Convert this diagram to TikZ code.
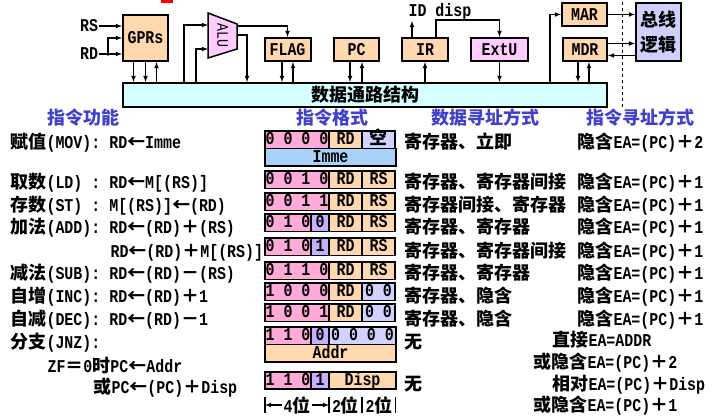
\documentclass[tikz,border=0pt]{standalone}
\usepackage{fontspec}
\setmainfont{Liberation Mono}[FakeStretch=0.83]
\newfontfamily\cjk{Noto Sans CJK SC}
\newcommand{\zh}[1]{{\cjk #1}}
\usetikzlibrary{arrows,positioning}

\definecolor{peach}{RGB}{255,216,176}
\definecolor{oppink}{RGB}{255,170,216}
\definecolor{bitviolet}{RGB}{196,176,255}
\definecolor{lilac}{RGB}{210,210,255}
\definecolor{immblue}{RGB}{168,210,250}
\definecolor{buscyan}{RGB}{214,255,255}
\definecolor{alupink}{RGB}{255,204,255}
\definecolor{logicblue}{RGB}{208,208,255}
\definecolor{headblue}{RGB}{64,64,204}

\begin{document}
\begin{tikzpicture}[>=latex, x=1pt, y=-1pt, line width=1.1pt,
  every node/.style={font=\bfseries\fontsize{18}{20}\selectfont, inner sep=0pt},
  unit/.style={draw, line width=2pt, fill=peach, minimum width=46pt, minimum height=23pt},
  cell/.style={draw, line width=1.8pt, minimum height=17.5pt, text height=12pt, text depth=2pt},
  opc/.style={cell, fill=oppink, minimum width=64pt},
  ophi/.style={cell, fill=oppink, minimum width=46pt},
  bit/.style={cell, fill=bitviolet, minimum width=18pt},
  reg/.style={cell, fill=peach, minimum width=33pt},
  nul/.style={cell, fill=lilac, minimum width=33pt},
  txt/.style={anchor=west, text height=14pt, text depth=3pt},
  head/.style={text=headblue}
]
\useasboundingbox (0,0) rectangle (712,415);

% datapath
\path
(365,95)     node[draw, line width=2pt, fill=buscyan, minimum width=484pt, minimum height=24pt] (bus) {\zh{数据通路结构}}
(145.5,38)   node[unit, minimum width=45pt, minimum height=46pt] (gprs) {GPRs}
(89,26)      node (rs) {RS}
(89,54)      node (rd) {RD}
(287.5,49.5) node[unit] (flag) {FLAG}
(356.5,49.5) node[unit, minimum width=45pt] (pc) {PC}
(425,49.5)   node[unit] (ir) {IR}
(499.5,49.5) node[unit, fill=alupink, minimum width=57pt] (extu) {ExtU}
(584.5,14.5) node[unit, minimum width=45pt] (mar) {MAR}
(585,49.5)   node[unit, minimum width=44pt] (mdr) {MDR}
(658.5,32)   node[unit, fill=logicblue, minimum width=45pt, minimum height=58pt, align=center,
               font=\bfseries\fontsize{18}{25}\selectfont] (logic) {\zh{总线}\\\zh{逻辑}}
(408,12)     node[anchor=west] (idlbl) {ID disp};

\filldraw[fill=alupink, line width=1.5pt] (208,13) -- (237,24) -- (237,49) -- (208,58) -- cycle;
\node[rotate=-90, font=\fontsize{16}{18}\selectfont] (alu) at (222.5,35.5) {ALU};
\coordinate (alua) at (208,25);
\coordinate (alub) at (208,49);
\coordinate (aluf) at (237,26);
\coordinate (alud) at (237,35);
\coordinate (rdsplit) at (108,54);

\draw[->] (rs) -- (rs -| gprs.west);
\draw[->] (rd) -- (rd -| gprs.west);
\fill (rdsplit) circle (1.8pt);
\draw[->] (rdsplit) |- (gprs.west);
\draw[->] ([xshift=-12pt]gprs.south) -- ([xshift=-12pt]gprs.south |- bus.north);
\draw[->] (gprs.south) -- (gprs.south |- bus.north);
\draw[<-] ([xshift=11pt]gprs.south) -- ([xshift=11pt]gprs.south |- bus.north);

\draw[->] ([xshift=-24pt]alua |- bus.north) |- (alua);
\draw[->] ([xshift=-12pt]alub |- bus.north) |- (alub);
\draw[->] (aluf) -| (flag.north);
\draw[->] (alud) -| ([xshift=10pt]alud |- bus.north);

\draw[->] ([xshift=-5.5pt]flag.south) -- ([xshift=-5.5pt]flag.south |- bus.north);
\draw[<-] ([xshift=5.5pt]flag.south) -- ([xshift=5.5pt]flag.south |- bus.north);
\draw[->] ([xshift=-6.5pt]pc.south) -- ([xshift=-6.5pt]pc.south |- bus.north);
\draw[<-] ([xshift=5.5pt]pc.south) -- ([xshift=5.5pt]pc.south |- bus.north);

\draw[<-] (ir.south) -- (ir.south |- bus.north);
\draw[->] ([xshift=-13pt]ir.north) -- ([xshift=-13pt]ir.north |- idlbl.south);
\draw[->] ([xshift=11pt]ir.north) |- ([yshift=17pt]extu.north) -- (extu.north);
\draw[->] (extu.south) -- (extu.south |- bus.north);

\draw[->] ([xshift=-34.5pt]mar.south |- bus.north) |- (mar.west);
\draw[->] (mar.east) -- (mar.east -| logic.west);
\draw[->] ([yshift=6pt]mdr.east) -- ([yshift=6pt]mdr.east -| logic.west);
\draw[<-] ([yshift=-6pt]mdr.east) -- ([yshift=-6pt]mdr.east -| logic.west);
\draw[->] ([xshift=-7pt]mdr.south) -- ([xshift=-7pt]mdr.south |- bus.north);
\draw[<-] ([xshift=4pt]mdr.south) -- ([xshift=4pt]mdr.south |- bus.north);

\draw[dashed, line width=0.8pt] (622,2) -- (622,110);
\fill[red] (161,0) rectangle (173,2.5);

% headings
\path
(83,118)  node[head] (hfun) {\zh{指令功能}}
(332,118) node[head] (hfmt) {\zh{指令格式}}
(485,118) node[head] (hdat) {\zh{数据寻址方式}}
(640,118) node[head] (hins) {\zh{指令寻址方式}};

% functions
\path
(10,143)  node[txt] (fmov) {\zh{赋值}(MOV): RD\zh{←}Imme}
(10,183)  node[txt] (fld)  {\zh{取数}(LD) : RD\zh{←}M[(RS)]}
(10,206)  node[txt] (fst)  {\zh{存数}(ST) : M[(RS)]\zh{←}(RD)}
(10,228)  node[txt] (fadd) {\zh{加法}(ADD): RD\zh{←}(RD)\zh{＋}(RS)}
(110,252) node[txt] (faddm) {RD\zh{←}(RD)\zh{＋}M[(RS)]}
(10,274)  node[txt] (fsub) {\zh{减法}(SUB): RD\zh{←}(RD)\zh{－}(RS)}
(10,297)  node[txt] (finc) {\zh{自增}(INC): RD\zh{←}(RD)\zh{＋}1}
(10,320)  node[txt] (fdec) {\zh{自减}(DEC): RD\zh{←}(RD)\zh{－}1}
(10,343)  node[txt] (fjnz) {\zh{分支}(JNZ):}
(47,367)  node[txt] (fjmp) {ZF\zh{＝}0\zh{时}PC\zh{←}Addr}
(93,388)  node[txt] (fjrel) {\zh{或}PC\zh{←}(PC)\zh{＋}Disp};

% formats
\path (297,139.75) node[opc] (mov_op) {0 0 0 0} +(48.5,0) node[reg] (mov_rd) {RD} +(81.5,0) node[nul] (mov_rs) {\zh{空}}
      (330.5,157.25) node[cell, fill=immblue, minimum width=131pt] (mov_im) {Imme};
\path (297,179.75) node[opc] (ld_op) {0 0 1 0} +(48.5,0) node[reg] (ld_rd) {RD} +(81.5,0) node[reg] (ld_rs) {RS};
\path (297,201.75) node[opc] (st_op) {0 0 1 1} +(48.5,0) node[reg] (st_rd) {RD} +(81.5,0) node[reg] (st_rs) {RS};
\path (288,222.75) node[ophi] (add_op) {0 1 0} +(32,0) node[bit] (add_b) {0} +(57.5,0) node[reg] (add_rd) {RD} +(90.5,0) node[reg] (add_rs) {RS};
\path (288,246.75) node[ophi] (addm_op) {0 1 0} +(32,0) node[bit] (addm_b) {1} +(57.5,0) node[reg] (addm_rd) {RD} +(90.5,0) node[reg] (addm_rs) {RS};
\path (297,270.75) node[opc] (sub_op) {0 1 1 0} +(48.5,0) node[reg] (sub_rd) {RD} +(81.5,0) node[reg] (sub_rs) {RS};
\path (297,291.75) node[opc] (inc_op) {1 0 0 0} +(48.5,0) node[reg] (inc_rd) {RD} +(81.5,0) node[nul] (inc_rs) {0 0};
\path (297,312.75) node[opc] (dec_op) {1 0 0 1} +(48.5,0) node[reg] (dec_rd) {RD} +(81.5,0) node[nul] (dec_rs) {0 0};
\path (288,335.75) node[ophi] (jnz_op) {1 1 0} +(32,0) node[bit] (jnz_b) {0} +(74.5,0) node[cell, fill=lilac, minimum width=67pt] (jnz_z) {0 0 0 0}
      (330.5,353.25) node[cell, fill=peach, minimum width=131pt] (jnz_ad) {Addr};
\path (288,380.5) node[ophi] (jr_op) {1 1 0} +(32,0) node[bit] (jr_b) {1} +(74.5,0) node[cell, fill=peach, minimum width=67pt] (jr_d) {Disp};

% field widths
\coordinate (t0) at (265,405);
\coordinate (t1) at (329,405);
\coordinate (t2) at (362,405);
\coordinate (t3) at (395.5,405);
\foreach \t in {t0,t1,t2,t3} \draw ([yshift=8pt]\t) -- ([yshift=-8pt]\t);
\path (297,405) node[inner sep=1pt] (w4) {4\zh{位}}
      (345.5,405) node (w2a) {2\zh{位}}
      (379,405) node (w2b) {2\zh{位}};
\draw[->] (w4.west) -- (t0);
\draw[->] (w4.east) -- (t1);

% data addressing
\path
(404,143) node[txt] (dmov) {\zh{寄存器、立即}}
(404,183) node[txt] (dld)  {\zh{寄存器、寄存器间接}}
(404,206) node[txt] (dst)  {\zh{寄存器间接、寄存器}}
(404,228) node[txt] (dadd) {\zh{寄存器、寄存器}}
(404,252) node[txt] (daddm) {\zh{寄存器、寄存器间接}}
(404,274) node[txt] (dsub) {\zh{寄存器、寄存器}}
(404,297) node[txt] (dinc) {\zh{寄存器、隐含}}
(404,320) node[txt] (ddec) {\zh{寄存器、隐含}}
(404,343) node[txt] (djnz) {\zh{无}}
(404,385) node[txt] (djr)  {\zh{无}};

% instruction addressing
\path
(577,143) node[txt] (imov) {\zh{隐含}EA=(PC)\zh{＋}2}
(577,183) node[txt] (ild)  {\zh{隐含}EA=(PC)\zh{＋}1}
(577,206) node[txt] (ist)  {\zh{隐含}EA=(PC)\zh{＋}1}
(577,228) node[txt] (iadd) {\zh{隐含}EA=(PC)\zh{＋}1}
(577,252) node[txt] (iaddm) {\zh{隐含}EA=(PC)\zh{＋}1}
(577,274) node[txt] (isub) {\zh{隐含}EA=(PC)\zh{＋}1}
(577,297) node[txt] (iinc) {\zh{隐含}EA=(PC)\zh{＋}1}
(577,320) node[txt] (idec) {\zh{隐含}EA=(PC)\zh{＋}1}
(552,341) node[txt] (ijmp) {\zh{直接}EA=ADDR}
(533,363) node[txt] (ijmp2) {\zh{或隐含}EA=(PC)\zh{＋}2}
(552,385) node[txt] (ijr)  {\zh{相对}EA=(PC)\zh{＋}Disp}
(533,406) node[txt] (ijr2) {\zh{或隐含}EA=(PC)\zh{＋}1};

\end{tikzpicture}
\end{document}
